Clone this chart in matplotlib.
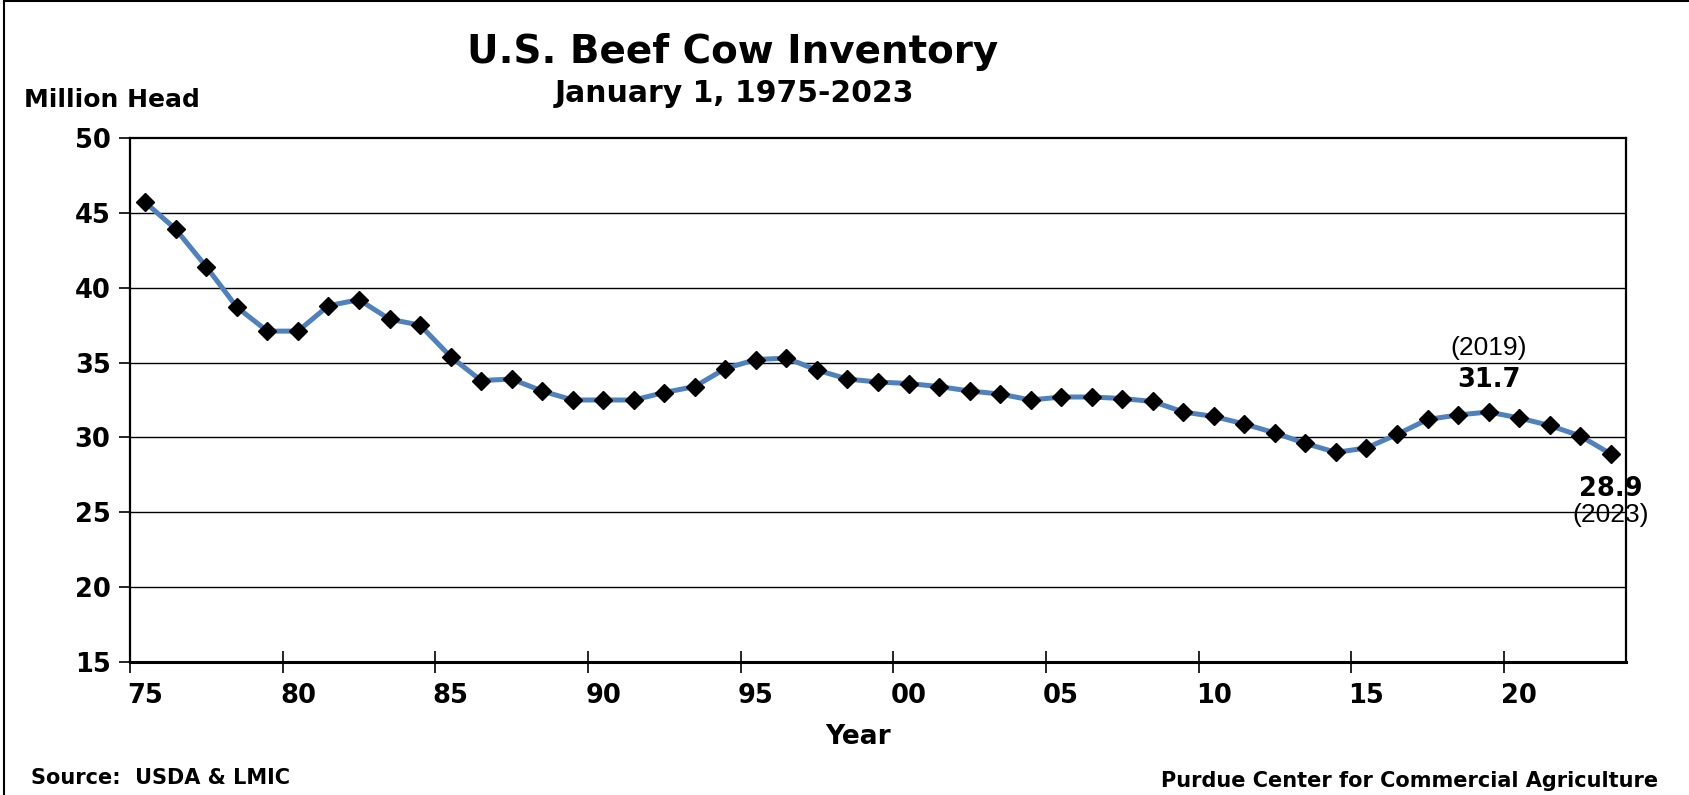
import matplotlib
matplotlib.use("Agg")
import matplotlib.pyplot as plt
from matplotlib.lines import Line2D
import numpy as np

# Data: January 1 beef cow inventory, million head
years = list(range(1975, 2024))
inventory = [
    45.7, 43.9, 41.4, 38.7, 37.1, 37.1, 38.8, 39.2, 37.9, 37.5,
    35.4, 33.8, 33.9, 33.1, 32.5, 32.5, 32.5, 33.0, 33.4, 34.6,
    35.2, 35.3, 34.5, 33.9, 33.7, 33.6, 33.4, 33.1, 32.9, 32.5,
    32.7, 32.7, 32.6, 32.4, 31.7, 31.4, 30.9, 30.3, 29.6, 29.0,
    29.3, 30.2, 31.2, 31.5, 31.7, 31.3, 30.8, 30.1, 28.9,
]
tick_years = [1975, 1980, 1985, 1990, 1995, 2000, 2005, 2010, 2015, 2020]
y_ticks = [15, 20, 25, 30, 35, 40, 45, 50]

W, H = 1690, 795
fig = plt.figure(figsize=(W / 100, H / 100), dpi=100)
ax = fig.add_axes([130 / W, 1 - 662 / H, (1626 - 130) / W, (662 - 138) / H])

# categories sit in the middle of each slot
x = np.arange(len(years)) + 0.5
ax.plot(x, inventory, color="#4F81BD", lw=3.6, zorder=3,
        marker="D", markersize=9.5, markerfacecolor="black",
        markeredgecolor="black")

ax.set_xlim(0, len(years))
ax.set_ylim(15, 50)
ax.set_yticks(y_ticks)
ax.set_yticklabels([str(v) for v in y_ticks], fontsize=18.5, fontweight="bold")
for v in y_ticks[1:-1]:
    ax.axhline(v, color="black", lw=1.0, zorder=1)

# boundaries every 5 years carry the tick marks, labels under the category
first = years[0]
ax.set_xticks([y - first for y in tick_years])
ax.set_xticklabels([])
ax.tick_params(axis="x", direction="inout", length=16, width=1.2)
ax.tick_params(axis="y", direction="out", length=8, width=1.2, pad=6)
for y in tick_years:
    ax.text(y - first + 0.5, -0.065, f"{y % 100:02d}", transform=ax.get_xaxis_transform(),
            ha="center", va="center", fontsize=18.5, fontweight="bold")

fig.text(858 / W, 1 - 737 / H, "Year", ha="center", va="center",
         fontsize=19, fontweight="bold")

for s in ax.spines.values():
    s.set_linewidth(1.6)
ax.spines["bottom"].set_linewidth(2.2)

# callouts for the 2019 peak and latest year
i19 = years.index(2019)
ax.annotate(f"{inventory[i19]:.1f}", (x[i19], inventory[i19]), xytext=(0, 23),
            textcoords="offset points", ha="center", va="center",
            fontsize=18.5, fontweight="bold")
ax.annotate("(2019)", (x[i19], inventory[i19]), xytext=(0, 46),
            textcoords="offset points", ha="center", va="center",
            fontsize=19, family="Liberation Sans")
i23 = years.index(2023)
ax.annotate(f"{inventory[i23]:.1f}", (x[i23], inventory[i23]), xytext=(0, -25),
            textcoords="offset points", ha="center", va="center",
            fontsize=18.5, fontweight="bold", annotation_clip=False)
ax.annotate("(2023)", (x[i23], inventory[i23]), xytext=(0, -44),
            textcoords="offset points", ha="center", va="center",
            fontsize=19, family="Liberation Sans", annotation_clip=False)

fig.text(733 / W, 1 - 52 / H, "U.S. Beef Cow Inventory", ha="center", va="center",
         fontsize=28, fontweight="bold")
fig.text(734 / W, 1 - 93 / H, "January 1, 1975-2023", ha="center", va="center",
         fontsize=21.5, fontweight="bold")
fig.text(24 / W, 1 - 100 / H, "Million Head", ha="left", va="center",
         fontsize=18, fontweight="bold")
fig.text(31 / W, 1 - 778 / H, "Source:  USDA & LMIC", ha="left", va="center",
         fontsize=15, fontweight="bold")
fig.text(1658 / W, 1 - 781 / H, "Purdue Center for Commercial Agriculture",
         ha="right", va="center", fontsize=15, fontweight="bold")

# outer chart frame (left and top edges show)
fig.add_artist(Line2D([4 / W, 4 / W], [0, 1 - 1 / H], color="black", lw=1.5))
fig.add_artist(Line2D([4 / W, 1], [1 - 1 / H, 1 - 1 / H], color="black", lw=1.5))

fig.savefig("out.png", dpi=100)
